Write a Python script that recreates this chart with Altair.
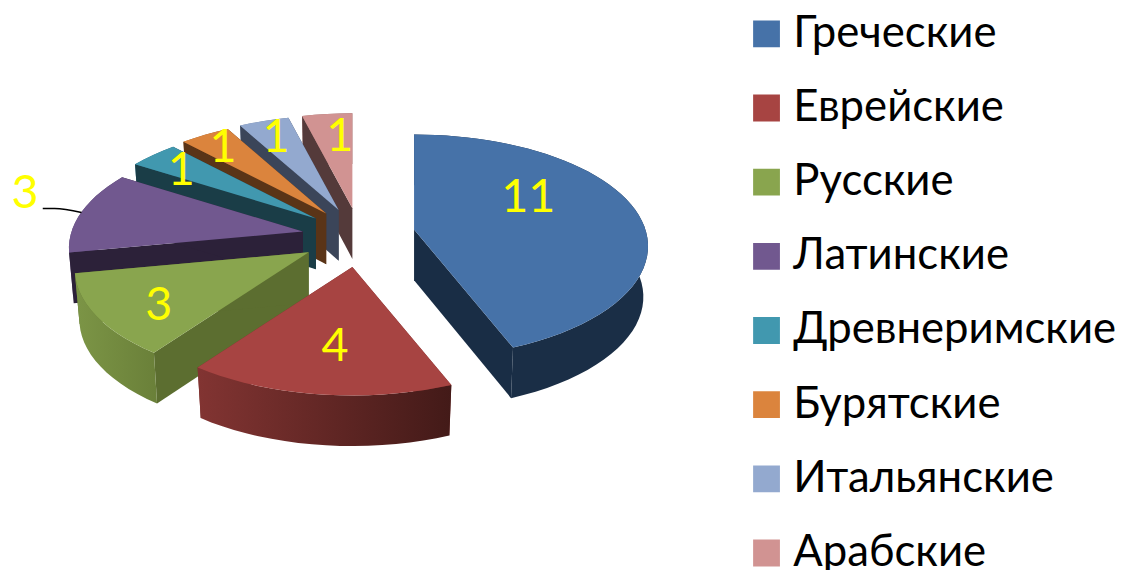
import math
import altair as alt
import pandas as pd

categories = ["Греческие", "Еврейские", "Русские", "Латинские",
              "Древнеримские", "Бурятские", "Итальянские", "Арабские"]
values = [11, 4, 3, 3, 1, 1, 1, 1]
top_colors = ["#4672A8", "#A74442", "#89A54E", "#71588F", "#4198AF", "#DB843D", "#93A9CF", "#D19392"]
side_colors = ["#192D45", "#7A2E2C", "#5C6E30", "#2C2139", "#1A3D47", "#5A3417", "#3B4559", "#543A3A"]
wall_left = ["#1A2E46", "#823432", "#7C9546", "#5E4A78", "#2E7386", "#A8652E", "#7A8CAB", "#A87776"]
wall_right = ["#1A2E46", "#431A18", "#6A8039", "#4A3A60", "#25606F", "#8A5225", "#62718C", "#8A6160"]
label_angle = [55, 186, 235.6, 287.5, 309, 325, 338.7, 355.5]
label_radius = [0.63, 0.65, 0.75, 1.34, 0.805, 0.86, 0.83, 0.77]
nudge_x = [-1, 0, -3, -1, 0, 0, 0, 0]
nudge_y = [-2, 1.5, 0, 0, 0, 0, 0, 0]

CX, CY, EX, EY = 362, 236.5, 57, 29
RX, RY, K, DEPTH, SHRINK = 233, 110, 0.15, 51, 0.98
total = sum(values)


def rim(theta, apex, r=1.0, drop=0.0, shrink=1.0):
    t = math.radians(theta)
    x, z = r * math.sin(t), r * math.cos(t)
    p = 1 / (1 + K * z)
    return apex[0] + RX * x * p * shrink, apex[1] - RY * z * p + drop


def frame(points, cat):
    return pd.DataFrame([{"x": a, "y": b, "i": i, "cat": cat} for i, (a, b) in enumerate(points)])


x_scale = alt.Scale(domain=[8, 1124], nice=False, zero=False)
y_scale = alt.Scale(domain=[570, 8], nice=False, zero=False)
color_scale = alt.Scale(domain=categories, range=top_colors)


def poly(points, cat, fill):
    return alt.Chart(frame(points, cat)).mark_line(
        interpolate="linear-closed", fill=fill, stroke=None, strokeWidth=0
    ).encode(
        x=alt.X("x:Q", scale=x_scale, axis=None),
        y=alt.Y("y:Q", scale=y_scale, axis=None),
        order="i:Q",
    )


layers = []
starts, c = [], 0
for v in values:
    starts.append(c / total * 360)
    c += v

labels = []
draw_order = [7, 6, 5, 4, 3, 2, 1, 0]
apexes = {}
for n in range(8):
    a0 = starts[n]
    a1 = a0 + values[n] / total * 360
    m = math.radians((a0 + a1) / 2)
    apexes[n] = (CX + EX * math.sin(m) + nudge_x[n], CY - EY * math.cos(m) + nudge_y[n])

for n in range(8):
    lx, ly = rim(label_angle[n], apexes[n], label_radius[n])
    labels.append({"x": lx - nudge_x[n], "y": ly - nudge_y[n], "t": str(values[n])})

for n in draw_order:
    a0 = starts[n]
    a1 = a0 + values[n] / total * 360
    mid = (a0 + a1) / 2
    apex = apexes[n]
    steps = max(4, int((a1 - a0) / 3))
    thetas = [a0 + (a1 - a0) * j / steps for j in range(steps + 1)]
    top = [rim(t, apex) for t in thetas]
    low = [rim(t, apex, drop=DEPTH, shrink=SHRINK) for t in thetas]
    apex_low = (apex[0], apex[1] + DEPTH)
    gradient = {"gradient": "linear", "x1": 0, "x2": 1, "y1": 0, "y2": 0,
                "stops": [{"offset": 0, "color": wall_left[n]}, {"offset": 1, "color": wall_right[n]}]}
    wall = poly(top + low[::-1], categories[n], gradient)
    faces = [poly([apex, top[0], low[0], apex_low], categories[n], side_colors[n]),
             poly([apex, top[-1], low[-1], apex_low], categories[n], side_colors[n])]
    if math.cos(math.radians(mid)) > 0 and n > 0:
        layers.append(wall)
        layers.extend(faces)
    else:
        layers.extend(faces)
        layers.append(wall)
    layers.append(poly([apex] + top, categories[n], top_colors[n]))

legend_layer = alt.Chart(pd.DataFrame({"cat": categories})).mark_square(opacity=0, size=1).encode(
    x=alt.value(0),
    y=alt.value(0),
    color=alt.Color(
        "cat:N", scale=color_scale, sort=categories, title=None,
        legend=alt.Legend(
            orient="none", legendX=742, legendY=0, symbolType="square", symbolSize=729,
            symbolOpacity=1, symbolStrokeWidth=0, labelFont="Lato", labelFontSize=44,
            labelColor="#000000", labelLimit=400, rowPadding=26.7, labelOffset=5, padding=0,
            clipHeight=48, columns=1,
        ),
    ),
)

leader_x = [43, 55, 82]
leader_y = [208, 208, 212]
leader = alt.Chart(pd.DataFrame({"x": leader_x, "y": leader_y})).mark_line(
    color="#000000", strokeWidth=1.5, interpolate="monotone"
).encode(x=alt.X("x:Q", scale=x_scale, axis=None), y=alt.Y("y:Q", scale=y_scale, axis=None))

text = alt.Chart(pd.DataFrame(labels)).mark_text(
    color="#FFFF00", font="Lato", fontSize=47, dx=0, dy=4
).encode(
    x=alt.X("x:Q", scale=x_scale, axis=None),
    y=alt.Y("y:Q", scale=y_scale, axis=None),
    text="t:N",
)

chart = alt.layer(*layers, leader, text, legend_layer).properties(
    width=1116, height=562, padding=0,
    autosize=alt.AutoSizeParams(type="none"),
).configure_view(stroke=None)

chart.save("out.html", embed_options={"renderer": "svg", "actions": False})
